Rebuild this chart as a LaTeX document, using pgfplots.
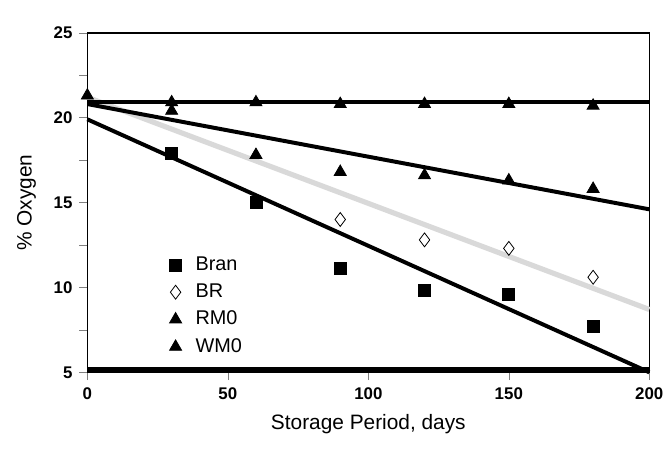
\documentclass[border=0pt]{standalone}
\usepackage{pgfplots}
\pgfplotsset{compat=1.18}
\usepackage{fontspec}
\setmainfont{Liberation Sans}
\definecolor{brgray}{HTML}{D9D9D9}
\begin{document}
\begin{tikzpicture}
\begin{axis}[
    name=ax,
    scale only axis,
    width=283pt, height=171pt,
    xmin=0, xmax=200,
    ymin=5, ymax=25,
    xtick={0,50,100,150,200},
    ytick={5,10,15,20,25},
    minor y tick num=1,
    tick align=outside,
    tick pos=left,
    major tick length=4pt,
    minor tick length=4pt,
    axis line style={line width=0.8pt},
    ticklabel style={font=\fontsize{8.5}{9}\selectfont\bfseries},
    /pgf/number format/assume math mode=true,
    xlabel={Storage Period, days},
    ylabel={\% Oxygen},
    label style={font=\fontsize{10.5}{12}\selectfont},
    xlabel style={yshift=-1pt},
    ylabel style={yshift=2pt},
    legend style={draw=none, fill=none, at={(axis cs:27,12.3)}, anchor=north west,
        font=\fontsize{10}{12}\selectfont, row sep=1.3pt,
        nodes={inner xsep=7pt}},
    legend cell align=left,
    clip=false,
]
% trend lines
\addplot[brgray, line width=2.6pt, forget plot] coordinates {(0,21.2)(200,8.7)};
\addplot[black, line width=2pt, forget plot] coordinates {(0,19.9)(200,5.0)};
\addplot[black, line width=2pt, forget plot] coordinates {(0,20.8)(200,14.6)};
\addplot[black, line width=2pt, forget plot] coordinates {(0,20.9)(200,20.9)};
\addplot[black, line width=2.4pt, forget plot] coordinates {(0,5.15)(200,5.15)};
% data
\addplot[only marks, mark=square*, mark size=3pt, black] coordinates {
    (30,17.9)(60,15.0)(90,11.1)(120,9.8)(150,9.6)(180,7.7)};
\addplot[only marks, mark=diamond, mark size=3.5pt, black, fill=white] coordinates {
    (90,14.0)(120,12.8)(150,12.3)(180,10.6)};
\addplot[only marks, mark=triangle*, mark size=3.5pt, black] coordinates {
    (30,20.4)(60,17.8)(90,16.8)(120,16.6)(150,16.3)(180,15.8)};
\addplot[only marks, mark=triangle*, mark size=3.5pt, black] coordinates {
    (0,21.3)(30,20.9)(60,20.9)(90,20.8)(120,20.8)(150,20.8)(180,20.7)};
\legend{Bran, BR, RM0, WM0}
\end{axis}
\path ([xshift=-44pt,yshift=-45pt]ax.south west) rectangle ([xshift=8pt,yshift=16.5pt]ax.north east);
\end{tikzpicture}
\end{document}
